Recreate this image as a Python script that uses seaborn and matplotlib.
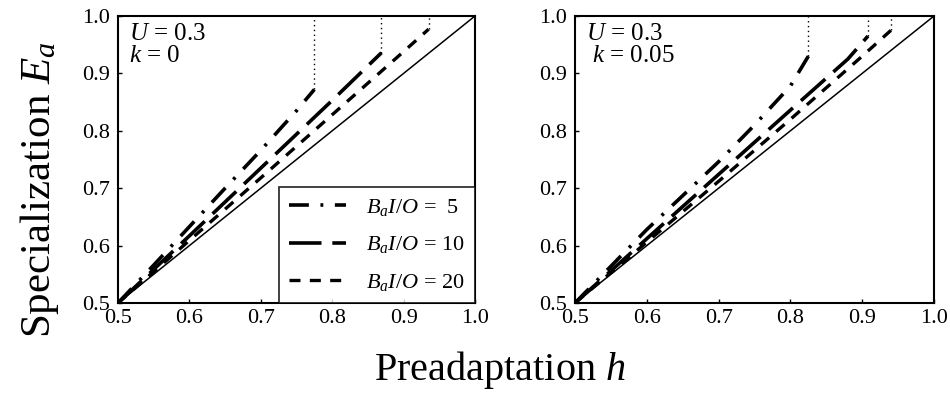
import numpy as np
import pandas as pd
import matplotlib
matplotlib.use('Agg')
import matplotlib.pyplot as plt
import seaborn as sns

# curve data (h, E_a) for each B_a I/O value
panel_labels = ['$U$ = 0.3\n$k$ = 0', '$U$ = 0.3\n $k$ = 0.05']
bio_values = [5, 10, 20]

# k = 0
h_k0_5 = [0.5, 0.55, 0.6, 0.65, 0.7, 0.75, 0.775]
e_k0_5 = [0.5, 0.566, 0.633, 0.700, 0.766, 0.835, 0.872]
h_k0_10 = [0.5, 0.6, 0.7, 0.8, 0.869]
e_k0_10 = [0.5, 0.617, 0.735, 0.853, 0.936]
h_k0_20 = [0.5, 0.6, 0.7, 0.8, 0.9, 0.935]
e_k0_20 = [0.5, 0.609, 0.718, 0.828, 0.938, 0.977]

# k = 0.05
h_k5_5 = [0.5, 0.6, 0.7, 0.75, 0.8, 0.825]
e_k5_5 = [0.5, 0.628, 0.746, 0.810, 0.878, 0.930]
h_k5_10 = [0.5, 0.6, 0.7, 0.8, 0.88, 0.908]
e_k5_10 = [0.5, 0.612, 0.724, 0.836, 0.925, 0.965]
h_k5_20 = [0.5, 0.6, 0.7, 0.8, 0.9, 0.94]
e_k5_20 = [0.5, 0.606, 0.712, 0.820, 0.930, 0.975]

panels = [
    [(h_k0_5, e_k0_5), (h_k0_10, e_k0_10), (h_k0_20, e_k0_20)],
    [(h_k5_5, e_k5_5), (h_k5_10, e_k5_10), (h_k5_20, e_k5_20)],
]

ticks = [0.5, 0.6, 0.7, 0.8, 0.9, 1.0]
tick_labels = ['0.5', '0.6', '0.7', '0.8', '0.9', '1.0']

sns.set_style('ticks')
plt.rcParams['font.family'] = ['Liberation Serif', 'DejaVu Serif']
plt.rcParams['mathtext.fontset'] = 'custom'
plt.rcParams['mathtext.rm'] = 'Liberation Serif'
plt.rcParams['mathtext.it'] = 'Liberation Serif:italic'
plt.rcParams['text.color'] = 'black'
plt.rcParams['xtick.color'] = 'black'
plt.rcParams['ytick.color'] = 'black'
plt.rcParams['axes.edgecolor'] = 'black'

dashes = [(0, (5.5, 3.2, 0.8, 3.2)), (0, (9, 3)), (0, (3.3, 2.8))]
lws = [2.6, 2.6, 2.4]

fig = plt.figure(figsize=(9.5, 3.97), dpi=100)
W, H = 950, 397
ax_boxes = [(118, 16, 475, 303), (575, 16, 934, 303)]
axes = [fig.add_axes([l / W, 1 - b / H, (r - l) / W, (b - t) / H]) for l, t, r, b in ax_boxes]

for ax, curves, lab in zip(axes, panels, panel_labels):
    # diagonal reference line
    diag = pd.DataFrame({'h': [0.5, 1.0], 'E': [0.5, 1.0]})
    sns.lineplot(data=diag, x='h', y='E', ax=ax, color='black', lw=1.1)
    for (hh, ee), ls, lw, b in zip(curves, dashes, lws, bio_values):
        df = pd.DataFrame({'h': hh, 'E': ee})
        lbl = f'$B_aI/O$ = {b}' if b > 5 else '$B_aI/O$ =  5'
        sns.lineplot(data=df, x='h', y='E', ax=ax, color='black', lw=lw,
                     linestyle=ls, label=lbl)
        # dotted line up to the top once the curve stops
        ax.plot([hh[-1], hh[-1]], [ee[-1], 1.0], color='black', lw=1.0, ls=(0, (1, 2.5)))
    ax.set_xlim(0.5, 1.0)
    ax.set_ylim(0.5, 1.0)
    ax.set_xticks(ticks)
    ax.set_xticklabels(tick_labels)
    ax.set_yticks(ticks)
    ax.set_yticklabels(tick_labels)
    ax.tick_params(direction='in', length=3, width=1, labelsize=16)
    ax.tick_params(axis='x', pad=4)
    ax.tick_params(axis='y', pad=6)
    ax.set_xlabel('')
    ax.set_ylabel('')
    for s in ax.spines.values():
        s.set_linewidth(1.5)
        s.set_visible(True)
    ax.text(0.03, 0.975, lab, transform=ax.transAxes, ha='left', va='top',
            fontsize=18, linespacing=1.0)
    ax.get_legend().remove()

# legend only on the left panel
handles, labels = axes[0].get_legend_handles_labels()
leg = axes[0].legend(handles, labels, loc='lower right', bbox_to_anchor=(1.0, 0.0),
                     fontsize=16, frameon=True, fancybox=False, borderpad=0.45,
                     handlelength=2.6, handletextpad=0.9, labelspacing=0.75, borderaxespad=0)
leg.get_frame().set_edgecolor('black')
leg.get_frame().set_linewidth(1.3)

fig.text(40 / W, 1 - 190 / H, 'Specialization $E_a$', rotation=90, ha='center', va='center', fontsize=31)
fig.text(500 / W, 1 - 370 / H, 'Preadaptation $h$', ha='center', va='center', fontsize=29)

fig.savefig('out.png', dpi=100)
